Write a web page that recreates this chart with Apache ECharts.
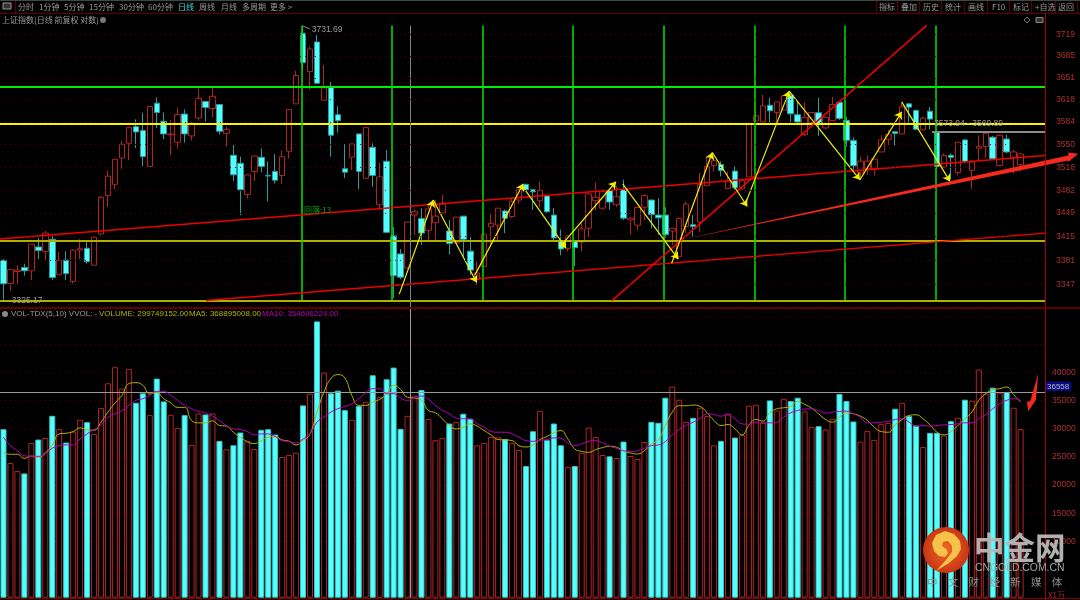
<!DOCTYPE html>
<html><head><meta charset="utf-8">
<style>html,body{margin:0;padding:0;background:#000}#c{width:1080px;height:600px}</style>
<script src="https://cdn.jsdelivr.net/npm/echarts@6/dist/echarts.min.js"></script>
</head><body><div id="c"></div>
<script>
// [open, close, low, high]
var candles = [
[3380.6,3347.6,3325.17,3382.5],[3348,3368,3338,3368],[3365,3367,3347,3374],[3370.6,3366,3359,3376],[3366,3404,3353,3404],
[3400,3395,3382.5,3413],[3393.6,3420,3380.6,3423],[3411,3356.5,3353,3416],[3361,3381,3360,3393],[3381,3362,3353,3394],
[3351,3395.5,3347.6,3397],[3395.5,3397.4,3382.5,3411.3],[3398,3379,3376,3408],[3374,3414,3374,3414],[3418.5,3472,3417.5,3474],
[3474.5,3503,3457.5,3511],[3491,3528,3484,3528],[3530,3550.5,3514,3555.5],[3552,3576,3527,3577],[3577,3569,3545,3588],
[3571,3532,3517.5,3598],[3517.5,3607.5,3517.5,3607.5],[3612.5,3598.4,3575,3621],[3585,3566,3558,3598.4],[3564.8,3565.8,3534,3587],
[3553.5,3595.4,3544,3606],[3596,3566,3553,3603],[3563,3582,3556,3584],[3590,3620,3586,3635],[3615,3606,3585,3615],
[3604.5,3623,3591,3635.5],[3610.5,3570,3565,3610.5],[3567,3573,3547,3577],[3534,3505,3496,3549.5],[3522,3483,3446,3532],
[3476,3505,3470,3505],[3510,3533,3496,3533],[3531,3517.5,3509,3544],[3504.2,3503.2,3466,3525],[3510,3497,3492,3536],
[3504,3532,3492,3541],[3540,3603,3529,3603],[3611.5,3655,3611.5,3662],[3720.6,3675,3664.5,3731.69],[3661,3696,3633,3700],
[3707,3643,3643,3717.5],[3617,3636,3617,3671],[3637,3564,3532,3645],[3595,3586,3568,3608],[3514,3509,3500,3550.5],
[3531,3551,3512,3551],[3566,3510,3484,3566],[3500,3576,3500,3576],[3546,3504,3487,3552],[3461,3502,3456,3523],
[3525,3421,3421,3542],[3416,3359,3327.5,3429],[3390,3357,3354,3397],[3370,3436,3369.5,3436],[3446,3451,3417.5,3454],
[3441,3420,3403,3456],[3424,3455,3408,3461],[3435,3444.5,3408,3468],[3449,3462,3449,3476],[3423,3405,3389,3439],
[3406,3443,3403,3443],[3444.5,3411,3386,3444.5],[3394,3367,3360,3414],[3354,3363,3346,3379],[3372,3418.5,3372,3422],
[3429,3434,3403,3449],[3431.5,3456,3409,3456],[3452,3441.5,3420,3454],[3444,3466,3441.5,3470.6],[3468,3483,3463,3483],
[3491,3483,3482,3491],[3483,3480,3453.6,3483],[3467,3482,3457.5,3495],[3474,3451,3449,3474],[3446,3413,3409,3456],
[3408,3397,3388,3425],[3398,3416,3393.5,3417],[3408,3399,3373,3410],[3407,3426,3393.5,3434],[3427,3477,3414,3478],
[3467,3472,3453,3494],[3456,3480,3453.6,3483],[3482,3465,3453.6,3483],[3461,3473.5,3457.5,3488],[3483,3441.5,3439,3498],
[3439,3441.6,3417.5,3443],[3431.5,3457,3424,3458.5],[3457.5,3474.5,3439,3476.4],[3468,3447,3427,3468],[3446,3442,3417.5,3470.6],
[3446,3418,3413,3457.5],[3423,3427,3403,3427],[3386,3441,3384,3443],[3429.5,3462,3420,3466],[3432,3429.5,3415,3446],
[3436,3491,3422,3508],[3489,3517.5,3489,3532],[3519,3526,3510,3537],[3520.5,3511.6,3502.7,3525],[3485,3496,3485,3510],
[3510.6,3486,3483,3517.5],[3484.4,3496,3483,3498],[3501.7,3580.4,3501.7,3580.4],[3585.4,3593.4,3579.4,3600.4],[3584.4,3608.5,3584.4,3625],
[3609.5,3601,3583.4,3621],[3598.4,3614.5,3583,3614.5],[3602,3624,3602,3624],[3624.6,3596.4,3582,3627],[3595,3584,3583,3614.5],
[3565,3591,3563,3614],[3583,3598.4,3582,3598.4],[3598,3581,3563,3621],[3575,3591,3573,3591],[3586,3610.5,3586,3622],
[3614,3589.4,3587,3614],[3586.4,3556.4,3547,3592],[3556,3518.5,3512.6,3561],[3507.6,3525.4,3498,3532],[3514,3525.4,3505,3534],
[3514,3528.3,3504,3528.3],[3539,3557,3539,3564],[3558,3565,3549.5,3572],[3569.3,3566.8,3548.6,3569.3],[3566,3607,3566,3613],
[3611.5,3606.5,3583,3613],[3601.5,3573,3573,3603],[3572,3590,3571,3592],[3600.4,3588.4,3573,3607],[3569.3,3517.5,3513.5,3571],
[3516.5,3534,3515,3537],[3534,3531,3498,3537],[3508.6,3553.5,3504,3553.5],[3557,3525,3522.5,3558],[3511.6,3524,3484,3527],
[3544.6,3547,3526.4,3564],[3547,3567,3530,3567],[3561,3529,3528,3563],[3519,3564,3517.5,3565],[3558.4,3539,3537,3565],
[3531,3539,3507,3542],[3520,3536,3510,3537]];
var volumes = [29940,23930,22500,22080,27500,28100,28390,32320,30000,27560,29520,31610,31190,29110,33690,38100,40950,37140,40650,34640,
36310,32440,38930,34880,32500,30180,32440,27140,32740,32560,32740,27860,26370,27080,29350,27800,26430,29820,29940,28990,
25000,25360,25770,34170,36250,49100,40000,36310,36790,33330,31610,34050,34820,39520,35650,38810,40890,30000,32320,35890,
36900,31790,27980,28390,30950,31250,32680,31790,27080,27500,28570,28510,28210,27500,26250,23390,29580,33210,27980,30950,
27080,23270,23390,25770,30240,28570,25360,25120,24820,27740,25180,24640,27680,31250,31070,35540,37500,35180,31250,31960,
33750,32260,27080,27860,32680,28450,28930,34110,34290,31070,35060,33270,35360,34940,35540,33100,30360,30480,29880,31790,
36190,34940,31310,27740,29640,28040,30830,31070,33570,34640,32260,30600,26790,29290,29290,28810,31370,31960,35180,35000,
40540,36250,37320,36430,36550,33750,29975];
var ma5 = [25770,25480,25480,24760,25180,24940,25710,27140,29110,29230,29520,30180,29820,29760,31190,32980,34580,35950,38040,38210,
37740,36190,36430,35360,34640,33810,33810,31490,31070,31070,31430,30600,30480,29400,28510,27740,27380,27920,28510,28630,
28040,27800,27140,27920,29110,32980,36550,38930,39640,39050,35950,34170,34170,34760,35240,36250,37740,37020,35600,35480,
35060,33270,32860,31790,30600,30000,30300,30890,30480,29700,28930,28100,28040,27920,27020,26790,27140,28100,28630,29290,
29700,28210,26430,26010,25830,26310,26670,26910,26730,26070,25710,25540,26130,27320,28040,30600,32980,34110,34110,34230,
33990,32860,31490,30600,30770,30000,28930,30600,31670,31370,32860,33570,33750,33990,34880,34350,33690,32680,31670,31190,
32080,32860,32680,32260,31490,30300,29520,29400,30710,31670,32380,32500,31790,30710,29400,28930,29520,30600,31790,32980,
35060,36250,36960,37140,37440,36070,34760];
var ma10 = [28510,27020,26130,25240,25120,25120,25540,26550,27020,27140,27140,28210,29110,29880,30710,32080,32680,33270,34170,35060,
35360,35950,36670,36670,35950,35060,34170,33570,33100,32860,32260,31490,30600,30000,29880,29520,28930,29110,29110,28630,
27920,27740,27500,28210,29110,31190,32080,32980,33570,33990,34460,35360,36430,37140,37140,36250,36250,35480,35060,35650,
35830,35240,34170,33270,32680,31900,31790,31790,30890,30300,29520,29400,29400,29110,28510,27920,27800,27980,28100,28390,
28330,27500,27020,27320,27800,27920,27500,26910,26550,26130,25950,26130,26550,27020,27140,27740,28930,29880,30600,31190,
31900,32680,32560,32260,32500,31790,30890,30830,31190,31190,31070,31190,32080,32860,33270,33510,33570,33270,32800,32980,
33100,33150,32680,32080,31070,31070,31190,31310,31670,31790,31190,30480,30600,30480,30600,30710,30770,30890,31070,31070,
31790,32500,33570,34460,35060,35360,35060];
var priceTicks = [3719,3685,3651,3618,3584,3550,3516,3482,3449,3415,3381,3347];
var volumeTicks = [5000,10000,15000,20000,25000,30000,35000,40000,45000];
var levelGreen = [3638.2];
var levelYellow = [3582,3409.4,3324];
var cycleLines = [42.8,55.8,68.83,81.75,94.8,107.82,120.75,133.75];
var cursorLine = [58.42];
var cycleRange = [3324.8,3733];
var redLines = [[[-0.5,3411.5],[149.5,3533.8]],[[29.07,3324],[149.5,3419.9]],[[87.34,3324],[132.51,3733]]];
var yellowArrows = [[[56.81,3333],[61.69,3468]],[[61.69,3468],[67.92,3349.4]],[[67.68,3360.2],[74.61,3491.8]],[[74.38,3490.3],[80.74,3398.3]],
[[80.12,3403.1],[87.92,3494.8]],[[88.88,3491.8],[96.86,3382.5]],[[95.91,3376.7],[101.74,3538.2]],[[101.74,3538.2],[106.76,3458.5]],
[[106.43,3460.9],[112.79,3631]],[[112.79,3631],[122.94,3497.7]],[[122.94,3497.7],[128.93,3599.4]],[[128.93,3614.5],[135.86,3495.3]]];
var rangeBar = [[133.3,3569.89],[149.5,3569.89]];
var bigArrow = [[96.82,3409.4],[152.84,3533.8],[152.84,3538.2],[154.27,3536.2],[152.84,3523.9],[152.84,3526.4]];
var smallArrow = [[148.53,39820],[148.2,35180],[147.1,33150],[146.9,34760],[147.4,34950]];
var volLevel = 36558;

var cats = candles.map(function(_,i){return String(i+1);});
for (var k=0;k<3;k++) cats.push('');
var RED='#b02424', CY='#55ffff', CYB='#2b9c9c';
function flat(p,c,w,z){return {type:'line',data:[],xAxisIndex:1,yAxisIndex:0,silent:true,z:z||5,markLine:{silent:true,animation:false,symbol:'none',label:{show:false},lineStyle:{color:c,width:w,type:'solid',opacity:1},emphasis:{disabled:true},data:p}};}
function seg(a){return [{coord:a[0]},{coord:a[1]}];}
function hline(v){return [{coord:[-0.5,v]},{coord:[149.5,v]}];}
function poly(pts,x,y,color){return {type:'custom',xAxisIndex:x,yAxisIndex:y,silent:true,z:9,clip:false,data:[0],
  renderItem:function(params,api){return {type:'polygon',shape:{points:pts.map(function(q){return api.coord(q);})},style:{fill:color}};}};}

var series=[
{type:'candlestick',data:candles,xAxisIndex:0,yAxisIndex:0,barWidth:6,silent:true,z:3,
 itemStyle:{color:'rgba(0,0,0,0)',color0:CY,borderColor:RED,borderColor0:CYB,borderWidth:1}},
flat(levelYellow.slice(0,1).map(hline),'#f5f500',2,6),
flat(levelYellow.slice(1).map(hline),'#b0b000',2,6),
flat(levelGreen.map(hline),'#00ee00',2,6),
flat(cycleLines.map(function(v){return [{coord:[v,cycleRange[0]]},{coord:[v,cycleRange[1]]}];}),'#00d800',1.6,6),
flat(cursorLine.map(function(v){return [{coord:[v,3313.6]},{coord:[v,cycleRange[1]]}];}),'#808080',1,6),
flat(redLines.map(seg),'#f00000',1.5,7),
flat([seg(rangeBar)],'#8a8a8a',2,7),
poly(bigArrow,1,0,'#f52a1e')];
var ya=flat(yellowArrows.map(seg),'#f0f000',1.2,8);
ya.markLine.symbol=['none','arrow'];ya.markLine.symbolSize=7;series.push(ya);
series.push(
{type:'bar',data:volumes.map(function(v,i){var up=candles[i][1]>=candles[i][0];
  return {value:v,itemStyle:up?{color:'rgba(0,0,0,0)',borderColor:RED,borderWidth:1}:{color:CY,borderColor:'#3cc4c4',borderWidth:1}};}),
 xAxisIndex:2,yAxisIndex:1,barWidth:6,silent:true,z:3},
{type:'line',data:ma5,xAxisIndex:2,yAxisIndex:1,smooth:true,showSymbol:false,silent:true,z:5,lineStyle:{color:'#b4b400',width:1}},
{type:'line',data:ma10,xAxisIndex:2,yAxisIndex:1,smooth:true,showSymbol:false,silent:true,z:5,lineStyle:{color:'#b400b4',width:1}},
{type:'line',data:[],xAxisIndex:3,yAxisIndex:1,silent:true,z:6,markLine:{silent:true,animation:false,symbol:'none',label:{show:false},lineStyle:{color:'#9a9a9a',width:1,type:'solid'},
  data:[[{coord:[-0.5,volLevel]},{coord:[149.5,volLevel]}],[{coord:[cursorLine[0],0]},{coord:[cursorLine[0],51300]}]]}},
poly(smallArrow,3,1,'#f52a1e'));

var GRAY='#9a9a9a';
var font='"Noto Sans CJK SC","Liberation Sans",sans-serif', numFont='"Liberation Sans",Arial,sans-serif';
var g=[];
function T(x,y,s,c,sz,extra){var st={x:x,y:y,text:s,fill:c||GRAY,font:(extra&&extra.weight||'normal')+' '+(sz||8)+'px '+(extra&&extra.latin?numFont:font),textVerticalAlign:'middle',textAlign:(extra&&extra.align)||'left',opacity:extra&&extra.opacity!=null?extra.opacity:1};g.push({type:'text',silent:true,z:50,style:st});}
function L(x1,y1,x2,y2,c,w){g.push({type:'line',silent:true,z:40,shape:{x1:x1,y1:y1,x2:x2,y2:y2},style:{stroke:c,lineWidth:w||1}});}
var LAT={latin:true};
// frame
L(0,0.5,1080,0.5,'#444');L(0,13.5,1080,13.5,'#5c0000');L(0,308,1080,308,'#5c0000',2);
L(1045.5,13.5,1045.5,600,'#a00000');L(0,598.5,1080,598.5,'#800000');
// toolbar
[['分时',18],['1分钟',39],['5分钟',64],['15分钟',89],['30分钟',119],['60分钟',148],['周线',199],['月线',221],['多周期',242],['更多 >',270]].forEach(function(a){T(a[1],7,a[0]);});
T(178,7,'日线','#3fd8d8');
[['指标',879],['叠加',901],['历史',923],['统计',945],['画线',968],['F10',992],['标记',1013],['+自选',1035],['返回',1058]].forEach(function(a){T(a[1],7,a[0]);});
[876,897,919,941,964,987,1009,1031,1055,1077].forEach(function(x){L(x+.5,1,x+.5,13,'#5c0000');});
L(15.5,1,15.5,13,'#5c0000');
g.push({type:'rect',silent:true,z:40,shape:{x:3,y:3,width:8,height:6},style:{fill:'#333',stroke:'#999',lineWidth:1}});
T(2,20,'上证指数(日线 前复权 对数)','#9a9a9a',8);
g.push({type:'circle',silent:true,z:40,shape:{cx:103,cy:20,r:3},style:{fill:'#777'}});
g.push({type:'polygon',silent:true,z:40,shape:{points:[[1027,17],[1030,20],[1027,23],[1024,20]]},style:{fill:'none',stroke:'#777',lineWidth:1}});
g.push({type:'rect',silent:true,z:40,shape:{x:1036,y:17.5,width:7,height:5},style:{fill:'#333',stroke:'#888',lineWidth:1}});
// annotations
T(311.7,29.5,'3731.69',GRAY,8.5,LAT);
L(303,26,310,29,'#8a8a8a');
T(11.7,301,'3325.17',GRAY,8.5,LAT);
T(304,210,'回落:13','#00a800',8);
T(934,124,'3573.94 - 3569.89',GRAY,8.5,LAT);
// volume header
g.push({type:'circle',silent:true,z:40,shape:{cx:5,cy:314,r:3},style:{fill:'#888'}});
T(11,314,'VOL-TDX(5,10) VVOL: -',GRAY,8,LAT);
T(99,314,'VOLUME: 299749152.00','#b4b400',8,LAT);
T(189,314,'MA5: 368895008.00','#b4b400',8,LAT);
T(262,314,'MA10: 354696224.00','#b400b4',8,LAT);
// level box
g.push({type:'rect',silent:true,z:41,shape:{x:1046,y:381.5,width:25,height:9.5},style:{fill:'#0a0a80'}});
T(1047,386.5,String(volLevel),'#b8b8c8',8,LAT);
T(1048,595,'X1万',RED,8);
// watermark
g.push({type:'circle',silent:true,z:45,shape:{cx:946,cy:550,r:23},style:{fill:{type:'radial',x:.5,y:.5,r:.6,colorStops:[{offset:0,color:'#ee6a20'},{offset:1,color:'#c22a14'}]}}});
g.push({type:'polygon',silent:true,z:46,shape:{points:[[932,543],[936,535],[945,531],[954,534],[960,541],[961,549],[957,556],[949,563],[936,571],[946,560],[952,552],[952,546],[948,541],[943,542],[942,546],[946,549],[948,553],[945,557],[939,556],[934,551]]},style:{fill:'#f7c24a'}});
T(974,547,'中金网','rgba(185,185,185,0.95)',30.5,{weight:'bold'});
T(975,568,'CNGOLD.COM.CN','#a8a8a8',10.4,LAT);
'中文财经新媒体'.split('').forEach(function(ch,i){T(927+i*20.8,582,ch,'#8f8f8f',10.5);});

var chart=echarts.init(document.getElementById('c'),null,{renderer:'canvas'});
chart.setOption({animation:false,backgroundColor:'#000',tooltip:{show:false},legend:{show:false},
grid:[{left:0,width:1045,top:14,height:294,containLabel:false},{left:0,width:1045,top:309,height:288.7,containLabel:false}],
xAxis:[
 {type:'category',gridIndex:0,data:cats,show:false,boundaryGap:true},
 {type:'value',gridIndex:0,min:-0.5,max:149.5,show:false,splitLine:{show:false}},
 {type:'category',gridIndex:1,data:cats,show:false,boundaryGap:true},
 {type:'value',gridIndex:1,min:-0.5,max:149.5,show:false,splitLine:{show:false}}],
yAxis:[
 {type:'log',logBase:10,gridIndex:0,position:'right',min:3313.6,max:3751,scale:true,
  axisLine:{show:false},axisTick:{show:false},
  axisLabel:{show:true,customValues:priceTicks,margin:11,color:'#b03030',fontSize:8.5,fontFamily:numFont,formatter:function(v){return String(Math.round(v));}},
  splitLine:{show:false}},
 {type:'value',gridIndex:1,position:'right',min:0,max:51300,interval:5000,
  axisLine:{show:false},axisTick:{show:false},
  axisLabel:{margin:7,color:'#b03030',fontSize:8.5,fontFamily:numFont,showMinLabel:false,showMaxLabel:false,customValues:volumeTicks,formatter:function(v){return String(Math.round(v));}},
  splitLine:{show:true,lineStyle:{color:'#5a0000',type:[1,4],width:1}}}],
series:series.concat([{type:'line',data:[],xAxisIndex:1,yAxisIndex:0,silent:true,z:1,markLine:{silent:true,animation:false,symbol:'none',label:{show:false},
  lineStyle:{color:'#5a0000',type:[1,4],width:1},data:priceTicks.map(hline)}}]),
graphic:{elements:g}});
</script></body></html>
